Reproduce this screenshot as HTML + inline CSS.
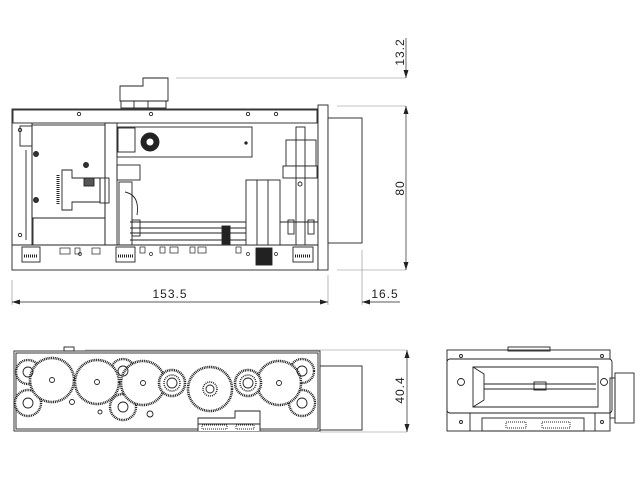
<!DOCTYPE html>
<html><head><meta charset="utf-8"><style>
html,body{margin:0;padding:0;background:#fff;}
svg{display:block;}
text{font-family:"Liberation Sans",sans-serif;font-size:12px;fill:#222;letter-spacing:1px;}
</style></head><body>
<svg width="640" height="480" viewBox="0 0 640 480" xmlns="http://www.w3.org/2000/svg">
<defs>
<marker id="a" markerWidth="8" markerHeight="6" refX="8" refY="3" orient="auto-start-reverse" markerUnits="userSpaceOnUse"><path d="M0,0.5 L8,3 L0,5.5z" fill="#222"/></marker>
</defs>
<g fill="none" stroke="#222" stroke-width="0.9">
<!-- ===== TOP VIEW ===== -->
<path d="M143,78 H168 V101 H120 V86 H143 Z" fill="#fff"/>
<rect x="121" y="101" width="45" height="7"/>
<line x1="134" y1="101" x2="134" y2="108"/><line x1="148" y1="101" x2="148" y2="108"/>
<rect x="12" y="109" width="306" height="161" fill="#fff"/>
<rect x="13" y="110" width="304" height="13"/>
<line x1="12" y1="245" x2="318" y2="245"/>
<line x1="32" y1="123" x2="32" y2="245"/>
<rect x="318" y="105" width="10" height="165" fill="#fff"/>
<rect x="328" y="118" width="34" height="125" fill="#fff"/>
<rect x="32" y="125" width="73" height="93"/>
<rect x="33" y="218" width="72" height="27"/>
<rect x="20" y="126" width="12" height="20"/>
<line x1="26" y1="150" x2="26" y2="240"/>
<path d="M62,170 H72 V178 H100 V202 H72 V210 H62 Z"/>
<line x1="58" y1="175" x2="58" y2="205" stroke-dasharray="1 1" stroke-width="3"/>
<rect x="100" y="178" width="9" height="25"/>
<circle cx="36" cy="154" r="2.5" fill="#333"/><circle cx="36" cy="200" r="2.5" fill="#333"/>
<circle cx="86" cy="165" r="2.5" fill="#333"/>
<rect x="84" y="178" width="10" height="8" fill="#555"/>
<rect x="105" y="123" width="12" height="122"/>
<rect x="117" y="127" width="135" height="30"/>
<rect x="118" y="128" width="17" height="24"/>
<circle cx="150" cy="142" r="9" fill="#222"/>
<circle cx="150" cy="142" r="4" fill="#fff"/>
<circle cx="246" cy="143" r="1.2" fill="#222"/>
<rect x="117" y="165" width="23" height="15"/>
<rect x="119" y="182" width="13" height="63"/>
<path d="M125,192 Q140,195 137,215"/>
<line x1="130" y1="222" x2="318" y2="222"/>
<line x1="130" y1="228" x2="246" y2="228"/>
<line x1="130" y1="233" x2="246" y2="233"/>
<line x1="130" y1="240" x2="246" y2="240"/>
<rect x="132" y="220" width="8" height="16"/>
<rect x="222" y="226" width="8" height="18" fill="#222"/>
<rect x="246" y="180" width="34" height="65" fill="#fff"/>
<line x1="257" y1="180" x2="257" y2="245"/><line x1="268" y1="180" x2="268" y2="245"/>
<rect x="286" y="140" width="30" height="26"/>
<rect x="283" y="166" width="34" height="12" fill="#fff"/>
<rect x="296" y="127" width="9" height="118"/>
<circle cx="300" cy="184" r="2"/>
<rect x="288" y="220" width="6" height="14"/><rect x="308" y="220" width="6" height="14"/>
<circle cx="79" cy="114" r="1.7"/><circle cx="151" cy="114" r="1.7"/>
<circle cx="248" cy="114" r="1.7"/><circle cx="276" cy="114" r="1.7"/>
<circle cx="20" cy="130" r="1.7"/><circle cx="20" cy="235" r="1.7"/>
<g fill="#fff">
<rect x="22" y="247" width="18" height="15"/><rect x="116" y="247" width="19" height="15"/>
<rect x="293" y="247" width="20" height="15"/>
</g>
<g stroke-dasharray="1 1" stroke-width="3">
<line x1="24" y1="256" x2="38" y2="256"/><line x1="118" y1="256" x2="133" y2="256"/><line x1="295" y1="256" x2="311" y2="256"/>
</g>
<rect x="256" y="248" width="16" height="17" fill="#222"/>
<g stroke-width="0.7">
<rect x="60" y="248" width="10" height="6"/><rect x="75" y="248" width="5" height="6"/><rect x="92" y="248" width="8" height="6"/>
<rect x="140" y="247" width="5" height="6"/><rect x="160" y="247" width="5" height="6"/><rect x="170" y="247" width="8" height="6"/>
<rect x="190" y="247" width="5" height="6"/><rect x="198" y="247" width="8" height="6"/><rect x="236" y="247" width="5" height="6"/>
<circle cx="80" cy="254" r="1.5"/><circle cx="151" cy="254" r="1.5"/><circle cx="248" cy="254" r="1.5"/><circle cx="276" cy="254" r="1.5"/>
</g>

<g stroke="#888" stroke-width="0.6">
<line x1="176" y1="78" x2="406" y2="78"/>
<line x1="337" y1="106" x2="406" y2="106"/>
<line x1="337" y1="270" x2="406" y2="270"/>
<line x1="12" y1="280" x2="12" y2="305"/>
<line x1="328" y1="275" x2="328" y2="305"/>
<line x1="362" y1="250" x2="362" y2="305"/>
<line x1="85" y1="350" x2="407" y2="350"/>
<line x1="320" y1="432" x2="407" y2="432"/>
</g>
<g stroke="#222" stroke-width="0.7">
<line x1="406" y1="38" x2="406" y2="78" marker-end="url(#a)"/>
<line x1="406" y1="106" x2="406" y2="270" marker-start="url(#a)" marker-end="url(#a)"/>
<line x1="12" y1="302" x2="328" y2="302" marker-start="url(#a)" marker-end="url(#a)"/>
<line x1="400" y1="302" x2="362" y2="302" marker-end="url(#a)"/>
<line x1="407" y1="350" x2="407" y2="432" marker-start="url(#a)" marker-end="url(#a)"/>
</g>

<!-- ===== BOTTOM-LEFT VIEW ===== -->
<rect x="14" y="351" width="306" height="80" fill="#fff"/>
<rect x="16" y="353" width="302" height="76"/>
<rect x="64" y="347" width="10" height="4"/>
<rect x="320" y="366" width="42" height="64" fill="#fff"/>
<g stroke-dasharray="1 0.8" stroke-width="2.4" fill="#fff">
<circle cx="28" cy="372" r="12"/><circle cx="28" cy="403" r="13"/>
<circle cx="123" cy="371" r="12"/><circle cx="123" cy="407" r="13"/>
<circle cx="302" cy="371" r="12"/><circle cx="302" cy="403" r="13"/>
</g>
<g fill="#fff" stroke-dasharray="1 0.8" stroke-width="2.6">
<circle cx="52" cy="380" r="22"/><circle cx="97" cy="382" r="22"/><circle cx="143" cy="383" r="22"/>
<circle cx="210" cy="389" r="22"/><circle cx="279" cy="383" r="22"/>
<circle cx="172" cy="383" r="13"/><circle cx="248" cy="383" r="13"/>
</g>
<g>
<circle cx="28" cy="372" r="5"/><circle cx="28" cy="403" r="5"/>
<circle cx="123" cy="371" r="5"/><circle cx="123" cy="407" r="5"/>
<circle cx="302" cy="371" r="5"/><circle cx="302" cy="403" r="5"/>
<circle cx="52" cy="380" r="2.5"/><circle cx="97" cy="382" r="2.5"/><circle cx="143" cy="383" r="2.5"/>
<circle cx="210" cy="389" r="4"/><circle cx="279" cy="383" r="2.5"/>
<circle cx="172" cy="383" r="5"/><circle cx="248" cy="383" r="5"/>
<circle cx="210" cy="389" r="7" stroke-dasharray="1 1" stroke-width="1.5"/>
<circle cx="172" cy="383" r="8" stroke-dasharray="1 1" stroke-width="1.5"/>
<circle cx="248" cy="383" r="8" stroke-dasharray="1 1" stroke-width="1.5"/>
<circle cx="150" cy="414" r="3"/><circle cx="72" cy="402" r="2.5"/><circle cx="100" cy="412" r="2"/>
</g>
<path d="M198,431 V418 H235 V411 H260 V431" fill="#fff"/>
<line x1="198" y1="424" x2="260" y2="424"/>
<rect x="202" y="425" width="25" height="4" stroke-dasharray="1 1"/>
<rect x="236" y="425" width="18" height="4" stroke-dasharray="1 1"/>

<!-- ===== RIGHT VIEW ===== -->
<rect x="447" y="350" width="163" height="81" fill="#fff"/>
<rect x="508" y="347" width="42" height="4"/>
<rect x="447" y="359" width="165" height="54" rx="3" fill="#fff"/>
<path d="M473,367 H598 V407 H473 Z"/>
<path d="M473,367 L484,374 V400 L473,407"/>
<line x1="484" y1="384" x2="596" y2="384"/><line x1="484" y1="389" x2="596" y2="389"/>
<rect x="534" y="382" width="12" height="8"/>
<rect x="615" y="373" width="19" height="50" fill="#fff"/>
<rect x="610" y="378" width="5" height="40"/>
<circle cx="461" cy="382" r="3.5"/><circle cx="604" cy="382" r="3.5"/>
<circle cx="461" cy="356" r="1.5"/><circle cx="602" cy="356" r="1.5"/>
<circle cx="461" cy="422" r="1.5"/><circle cx="602" cy="422" r="1.5"/>
<line x1="470" y1="413" x2="470" y2="431"/><line x1="595" y1="413" x2="595" y2="431"/>
<rect x="482" y="418" width="102" height="13"/>
<rect x="506" y="422" width="20" height="6" stroke-dasharray="1 1"/>
<rect x="542" y="422" width="28" height="6" stroke-dasharray="1 1"/>
</g>
<text x="170" y="298" text-anchor="middle">153.5</text>
<text x="385" y="298" text-anchor="middle">16.5</text>
<text transform="translate(404,52) rotate(-90)" text-anchor="middle">13.2</text>
<text transform="translate(404,188) rotate(-90)" text-anchor="middle">80</text>
<text transform="translate(404,390) rotate(-90)" text-anchor="middle">40.4</text>
</svg>
</body></html>
